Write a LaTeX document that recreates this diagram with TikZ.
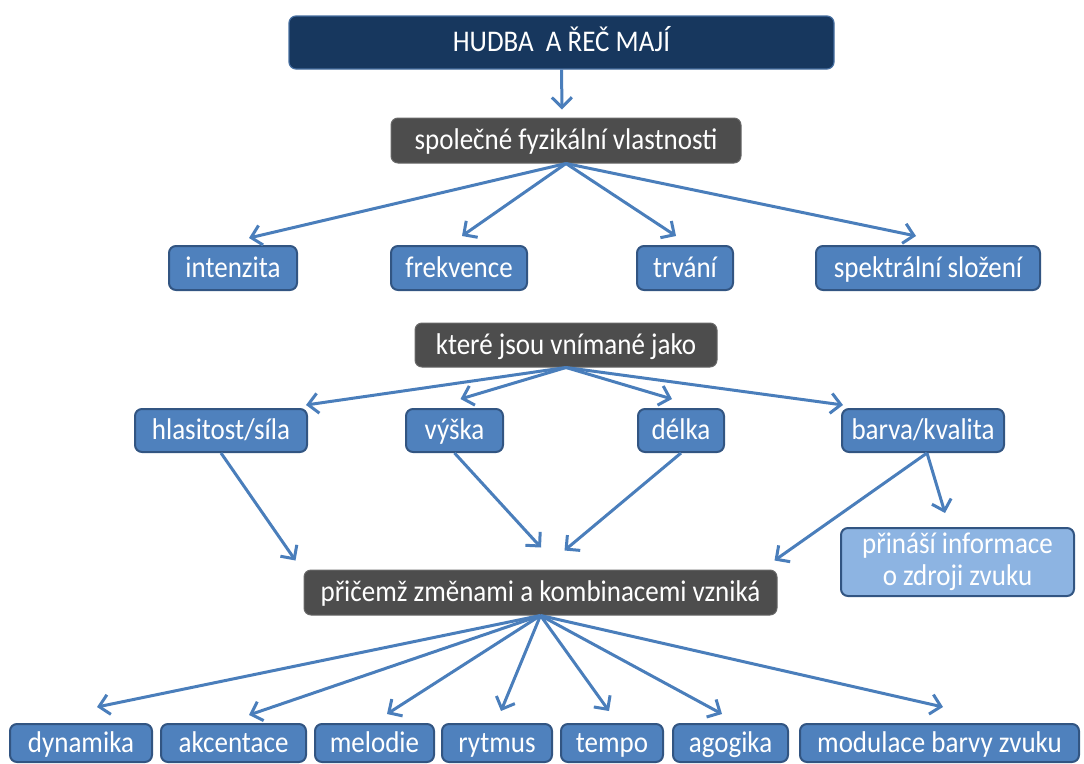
\documentclass[tikz,border=0pt]{standalone}
\usepackage{fontspec}
\setmainfont{Carlito}[FakeStretch=0.9]
\usetikzlibrary{arrows.meta}
\definecolor{navy}{RGB}{23,55,94}
\definecolor{navyedge}{RGB}{70,110,160}
\definecolor{bfill}{RGB}{79,129,189}
\definecolor{bedge}{RGB}{50,85,130}
\definecolor{gfill}{RGB}{77,77,77}
\definecolor{lfill}{RGB}{141,180,226}
\definecolor{arrc}{RGB}{74,126,187}
\begin{document}
\begin{tikzpicture}[x=1pt,y=-1pt,
  every node/.style={font=\fontsize{30}{32}\selectfont, text=white, inner sep=0pt, rounded corners=7pt,
    text height=21pt, text depth=3pt},
  sz/.style 2 args={minimum width=#1pt, minimum height=#2pt},
  topbox/.style={fill=navy, draw=navyedge, line width=1.2pt},
  bluebox/.style={fill=bfill, draw=bedge, line width=2pt},
  greybox/.style={fill=gfill, draw=gfill!85!white, line width=1pt},
  lightbox/.style={fill=lfill, draw=bedge, line width=2pt, align=center, text height=, text depth=},
  conn/.style={draw=arrc, line width=3pt, -{Straight Barb[length=10pt,width=20pt,line width=3pt]}}]
\useasboundingbox (0,0) rectangle (1084,763);

% nodes
\node[topbox, sz={545}{53}] (top) at (561.5,42.5) {HUDBA\ \ A ŘEČ MAJÍ};
\node[greybox, sz={350}{45}] (spol) at (566,140.5) {společné fyzikální vlastnosti};

\node[bluebox, sz={128}{44}] (int) at (233,268) {intenzita};
\node[bluebox, sz={136}{44}] (frek) at (459,268) {frekvence};
\node[bluebox, sz={96}{44}] (trv) at (685,268) {trvání};
\node[bluebox, sz={224}{44}] (spek) at (928,268) {spektrální složení};

\node[greybox, sz={302}{44}] (ktere) at (566,345) {které jsou vnímané jako};

\node[bluebox, sz={172}{43}] (hlas) at (221,430.5) {hlasitost/síla};
\node[bluebox, sz={97}{43}] (vys) at (454.5,430.5) {výška};
\node[bluebox, sz={86}{43}] (del) at (681,430.5) {délka};
\node[bluebox, sz={162}{43}] (bar) at (923,430.5) {barva/kvalita};

\node[greybox, sz={473}{45}] (pric) at (540.5,592.5) {přičemž změnami a kombinacemi vzniká};
\node[lightbox, sz={233}{68}] (prin) at (957.5,562) {přináší informace\\o zdroji zvuku};

\node[bluebox, sz={142}{38}] (dyn) at (81,743) {dynamika};
\node[bluebox, sz={145}{38}] (akc) at (233.5,743) {akcentace};
\node[bluebox, sz={119}{38}] (mel) at (374.5,743) {melodie};
\node[bluebox, sz={110}{38}] (ryt) at (497,743) {rytmus};
\node[bluebox, sz={102}{38}] (tem) at (612,743) {tempo};
\node[bluebox, sz={115}{38}] (ago) at (730.5,743) {agogika};
\node[bluebox, sz={279}{38}] (mod) at (939.5,743) {modulace barvy zvuku};

% connectors
\draw[conn] (top.south) -- ([shift={(-4,-8)}]spol.north);

\draw[conn] (spol.south) -- ([shift={(16,-7)}]int.north);
\draw[conn] (spol.south) -- ([shift={(3,-9)}]frek.north);
\draw[conn] (spol.south) -- ([shift={(-9,-9)}]trv.north);
\draw[conn] (spol.south) -- ([shift={(-12,-9)}]spek.north);

\draw[conn] (ktere.south) -- ([shift={(85,-3)}]hlas.north);
\draw[conn] (ktere.south) -- ([shift={(6,-9)}]vys.north);
\draw[conn] (ktere.south) -- ([shift={(-9,-9)}]del.north);
\draw[conn] (ktere.south) -- ([shift={(-80,-3)}]bar.north);

\draw[conn] (hlas.south) -- ([shift={(-245,-9)}]pric.north);
\draw[conn] (vys.south) -- ([shift={(0.5,-22)}]pric.north);
\draw[conn] (del.south) -- ([shift={(24,-19)}]pric.north);
\draw[conn] ([shift={(4,0)}]bar.south) -- ([shift={(234,-9)}]pric.north);
\draw[conn] ([shift={(4,0)}]bar.south) -- ([shift={(-12.5,-14)}]prin.north);

\draw[conn] (pric.south) -- ([shift={(16,-16)}]dyn.north);
\draw[conn] (pric.south) -- ([shift={(15.5,-8)}]akc.north);
\draw[conn] (pric.south) -- ([shift={(12.5,-9)}]mel.north);
\draw[conn] (pric.south) -- ([shift={(4,-12)}]ryt.north);
\draw[conn] (pric.south) -- ([shift={(-3,-12)}]tem.north);
\draw[conn] (pric.south) -- ([shift={(-8.5,-9)}]ago.north);
\draw[conn] (pric.south) -- ([shift={(3.5,-16)}]mod.north);
\end{tikzpicture}
\end{document}
